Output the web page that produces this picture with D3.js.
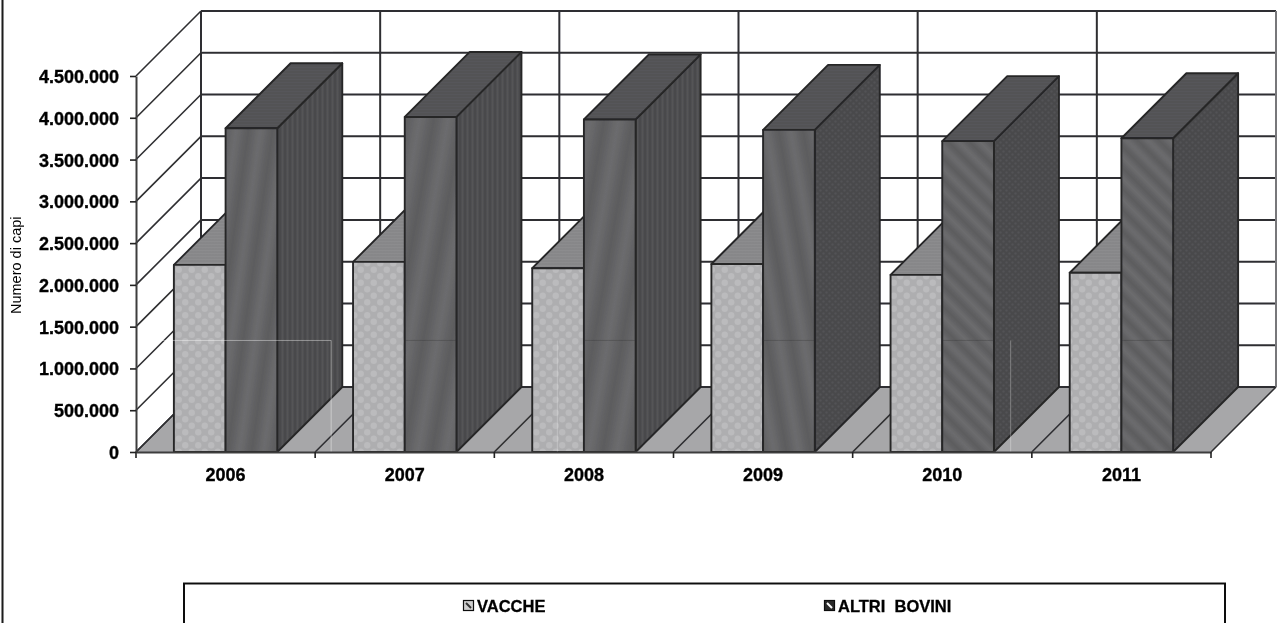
<!DOCTYPE html>
<html>
<head>
<meta charset="utf-8">
<script src="https://d3js.org/d3.v7.min.js"></script>
<style>
    html, body { margin: 0; padding: 0; background: #fff; overflow: hidden; }
    text { font-family: "Liberation Sans", Arial, sans-serif; fill: #000; }
</style>
</head>
<body>
<div id="wrapper"></div>
<script>
const years = ["2006", "2007", "2008", "2009", "2010", "2011"]
const vacche = [2240000, 2275000, 2200000, 2250000, 2120000, 2145000]
const altriBovini = [3875000, 4010000, 3980000, 3855000, 3720000, 3755000]
const seriesNames = ["VACCHE", "ALTRI  BOVINI"]
const yTicks = [0, 500000, 1000000, 1500000, 2000000, 2500000, 3000000, 3500000, 4000000, 4500000]
const yTitle = "Numero di capi"

function drawChart(){
    const dimensions = {
        width: 1279,
        height: 623,
        left: 136,
        right: 1211,
        top: 76,
        bottom: 452,
        depth: 65,
    }
    const d = dimensions.depth

    const wrapper = d3.select("#wrapper")
        .append("svg")
        .attr("width", dimensions.width)
        .attr("height", dimensions.height)
        .style("display", "block")

    const defs = wrapper.append("defs")
    const soft = defs.append("filter").attr("id", "soft")
        .attr("x", "-2%").attr("y", "-2%").attr("width", "104%").attr("height", "104%")
    soft.append("feGaussianBlur").attr("stdDeviation", 0.45)

    // the scanned chart has a different texture on every bar
    const stripes = (id, angle, size, a, b) => {
        const grad = defs.append("linearGradient").attr("id", id + "Grad")
        grad.append("stop").attr("offset", "0%").attr("stop-color", a)
        grad.append("stop").attr("offset", "50%").attr("stop-color", b)
        grad.append("stop").attr("offset", "100%").attr("stop-color", a)
        const p = defs.append("pattern").attr("id", id)
            .attr("patternUnits", "userSpaceOnUse")
            .attr("width", size).attr("height", size)
            .attr("patternTransform", `rotate(${angle})`)
        p.append("rect").attr("width", size).attr("height", size).attr("fill", `url(#${id}Grad)`)
    }
    const dots = (id, size, r, a, b) => {
        const p = defs.append("pattern").attr("id", id)
            .attr("patternUnits", "userSpaceOnUse")
            .attr("width", size).attr("height", size)
        p.append("rect").attr("width", size).attr("height", size).attr("fill", a)
        p.append("circle").attr("cx", size / 4).attr("cy", size / 4).attr("r", r).attr("fill", b)
        p.append("circle").attr("cx", size * 3 / 4).attr("cy", size * 3 / 4).attr("r", r).attr("fill", b)
    }
    const frontAngles = [8, 10, 10, -10, -45, -45]
    const frontSizes = [24, 28, 28, 24, 15, 15]
    years.forEach((year, i) => {
        stripes(`front${year}`, frontAngles[i], frontSizes[i], "#5c5c5e", "#6c6c6e")
        if(i < 3) stripes(`side${year}`, 0, 5, "#474749", "#555557")
        else dots(`side${year}`, 6, 1.3, "#49494b", "#525254")
    })
    dots("vaccheFront", 13, 3.2, "#aeaeb0", "#bbbbbd")
    stripes("vaccheTop", 90, 3, "#858587", "#8c8c8e")
    stripes("altriTop", 90, 3, "#505052", "#57575a")

    const yScale = d3.scaleLinear()
        .domain([0, 4500000])
        .range([dimensions.bottom, dimensions.top])

    const xScale = d3.scaleBand()
        .domain(years)
        .range([dimensions.left, dimensions.right])

    const barScale = d3.scaleBand()
        .domain(seriesNames)
        .range([0, xScale.bandwidth()])
        .paddingInner(0)
        .paddingOuter(0.733)

    const edges = years.map(y => xScale(y)).concat(dimensions.right)

    const bounds = wrapper.append("g").attr("filter", "url(#soft)")
    const gridColor = "#2e2e30"

    // floor
    bounds.append("path")
        .attr("d", d3.line()([
            [dimensions.left, dimensions.bottom],
            [dimensions.right, dimensions.bottom],
            [dimensions.right + d, dimensions.bottom - d],
            [dimensions.left + d, dimensions.bottom - d],
        ]) + "Z")
        .attr("fill", "#a7a7a9")

    // back wall and left wall grid
    bounds.selectAll(".hgrid").data(yTicks).join("line")
        .attr("x1", dimensions.left + d)
        .attr("x2", dimensions.right + d)
        .attr("y1", v => yScale(v) - d)
        .attr("y2", v => yScale(v) - d)
        .attr("stroke", gridColor).attr("stroke-width", 2)

    bounds.selectAll(".vgrid").data(edges).join("line")
        .attr("x1", e => e + d)
        .attr("x2", e => e + d)
        .attr("y1", yScale(4500000) - d)
        .attr("y2", yScale(0) - d)
        .attr("stroke", (e, i) => i == years.length ? "#77777a" : gridColor)
        .attr("stroke-width", 2)

    bounds.selectAll(".wall").data(yTicks).join("line")
        .attr("x1", dimensions.left)
        .attr("x2", dimensions.left + d)
        .attr("y1", v => yScale(v))
        .attr("y2", v => yScale(v) - d)
        .attr("stroke", gridColor).attr("stroke-width", 1.6)

    bounds.selectAll(".floorline").data(edges).join("line")
        .attr("x1", e => e)
        .attr("x2", e => e + d)
        .attr("y1", dimensions.bottom)
        .attr("y2", dimensions.bottom - d)
        .attr("stroke", gridColor).attr("stroke-width", 1.6)

    // bars, one box for each value
    const box = (x, w, value, front, side, top) => {
        const y0 = yScale(0)
        const y1 = yScale(value)
        const g = bounds.append("g")
            .attr("stroke", "#262628").attr("stroke-width", 1.9).attr("stroke-linejoin", "round")
        g.append("path")
            .attr("d", d3.line()([[x + w, y0], [x + w + d, y0 - d], [x + w + d, y1 - d], [x + w, y1]]) + "Z")
            .attr("fill", side)
        g.append("path")
            .attr("d", d3.line()([[x, y1], [x + w, y1], [x + w + d, y1 - d], [x + d, y1 - d]]) + "Z")
            .attr("fill", top)
        g.append("rect")
            .attr("x", x).attr("y", y1)
            .attr("width", w).attr("height", y0 - y1)
            .attr("fill", front)
    }

    years.forEach((year, i) => {
        box(xScale(year) + barScale(seriesNames[0]), barScale.bandwidth(), vacche[i],
            "url(#vaccheFront)", "#6a6a6c", "url(#vaccheTop)")
        box(xScale(year) + barScale(seriesNames[1]), barScale.bandwidth(), altriBovini[i],
            `url(#front${year})`, `url(#side${year})`, "url(#altriTop)")
    })

    // faint scan lines left on the picture
    const scanY = yScale(1335000)
    bounds.append("path")
        .attr("d", `M${dimensions.left} ${scanY}H${xScale("2007") + 16}V${dimensions.bottom + 8}`)
        .attr("fill", "none").attr("stroke", "#fff").attr("stroke-opacity", 0.4).attr("stroke-width", 1)
    bounds.append("line")
        .attr("x1", dimensions.left + d).attr("x2", xScale("2007") + 18)
        .attr("y1", yScale(4020000) - d).attr("y2", yScale(4020000) - d)
        .attr("stroke", "#fff").attr("stroke-opacity", 0.25)
    bounds.append("line")
        .attr("x1", xScale("2008") + 63).attr("x2", xScale("2008") + 63)
        .attr("y1", scanY).attr("y2", dimensions.bottom)
        .attr("stroke", "#fff").attr("stroke-opacity", 0.25)
    bounds.append("line")
        .attr("x1", xScale("2010") + 158).attr("x2", xScale("2010") + 158)
        .attr("y1", scanY).attr("y2", dimensions.bottom)
        .attr("stroke", "#fff").attr("stroke-opacity", 0.3)
    years.slice(1).forEach(year => {
        bounds.append("line")
            .attr("x1", xScale(year) + barScale(seriesNames[1]))
            .attr("x2", xScale(year) + barScale(seriesNames[1]) + barScale.bandwidth())
            .attr("y1", scanY).attr("y2", scanY)
            .attr("stroke", "#333").attr("stroke-opacity", 0.3)
    })

    // axes
    const italian = d3.formatLocale({ decimal: ",", thousands: ".", grouping: [3], currency: ["€", ""] })

    const yAxis = bounds.append("g")
        .attr("transform", `translate(${dimensions.left},0)`)
        .call(d3.axisLeft(yScale).tickValues(yTicks).tickFormat(italian.format(",d")).tickSize(6).tickSizeOuter(0))
    yAxis.select(".domain").attr("stroke", "#3c3c3e").attr("stroke-width", 2)
    yAxis.selectAll(".tick line").attr("stroke", "#222").attr("stroke-width", 1.6)
    yAxis.selectAll("text")
        .attr("x", -17).attr("dy", "0.36em")
        .style("font-family", "'Liberation Sans'").style("font-size", "18px").style("font-weight", "bold")
        .style("stroke", "#000").style("stroke-width", 0.35)
        .attr("fill", "#000")

    const xAxis = bounds.append("g")
        .attr("transform", `translate(0,${dimensions.bottom})`)
        .call(d3.axisBottom(xScale).tickSize(0).tickPadding(16))
    xAxis.select(".domain").attr("stroke", "#3c3c3e").attr("stroke-width", 2.2)
    xAxis.selectAll("text")
        .style("font-family", "'Liberation Sans'").style("font-size", "18px").style("font-weight", "bold")
        .style("stroke", "#000").style("stroke-width", 0.35)
        .attr("fill", "#000")

    bounds.selectAll(".xtick").data(edges).join("line")
        .attr("x1", e => e).attr("x2", e => e)
        .attr("y1", dimensions.bottom).attr("y2", dimensions.bottom + 6)
        .attr("stroke", "#222").attr("stroke-width", 1.6)

    bounds.append("text")
        .attr("transform", `translate(21,${yScale(2235000)}) rotate(-90)`)
        .attr("text-anchor", "middle")
        .style("font-size", "14.5px")
        .text(yTitle)

    // frame and legend
    bounds.append("line")
        .attr("x1", 2.5).attr("x2", 2.5).attr("y1", 0).attr("y2", dimensions.height)
        .attr("stroke", "#1a1a1a").attr("stroke-width", 2)

    bounds.append("path")
        .attr("d", `M184 ${dimensions.height + 4}V583.5H1225V${dimensions.height + 4}`)
        .attr("fill", "none").attr("stroke", "#111").attr("stroke-width", 2)

    const keyX = [463, 824]
    const keyFill = ["#cfcfcf", "#2c2c2c"]
    const keyInner = ["#333", "#fff"]
    seriesNames.forEach((name, i) => {
        bounds.append("rect")
            .attr("x", keyX[i] + 0.5).attr("y", 600.5).attr("width", 10).attr("height", 10)
            .attr("fill", keyFill[i]).attr("stroke", "#111").attr("stroke-width", 1.2)
        bounds.append("path")
            .attr("d", `M${keyX[i] + 3} 603L${keyX[i] + 8} 608`)
            .attr("stroke", keyInner[i]).attr("stroke-width", 2)
        bounds.append("text")
            .attr("x", keyX[i] + 14).attr("y", 612)
            .style("font-size", "16.5px").style("font-weight", "bold").style("white-space", "pre")
            .style("stroke", "#000").style("stroke-width", 0.3)
            .text(name)
    })
}
drawChart()
</script>
</body>
</html>
